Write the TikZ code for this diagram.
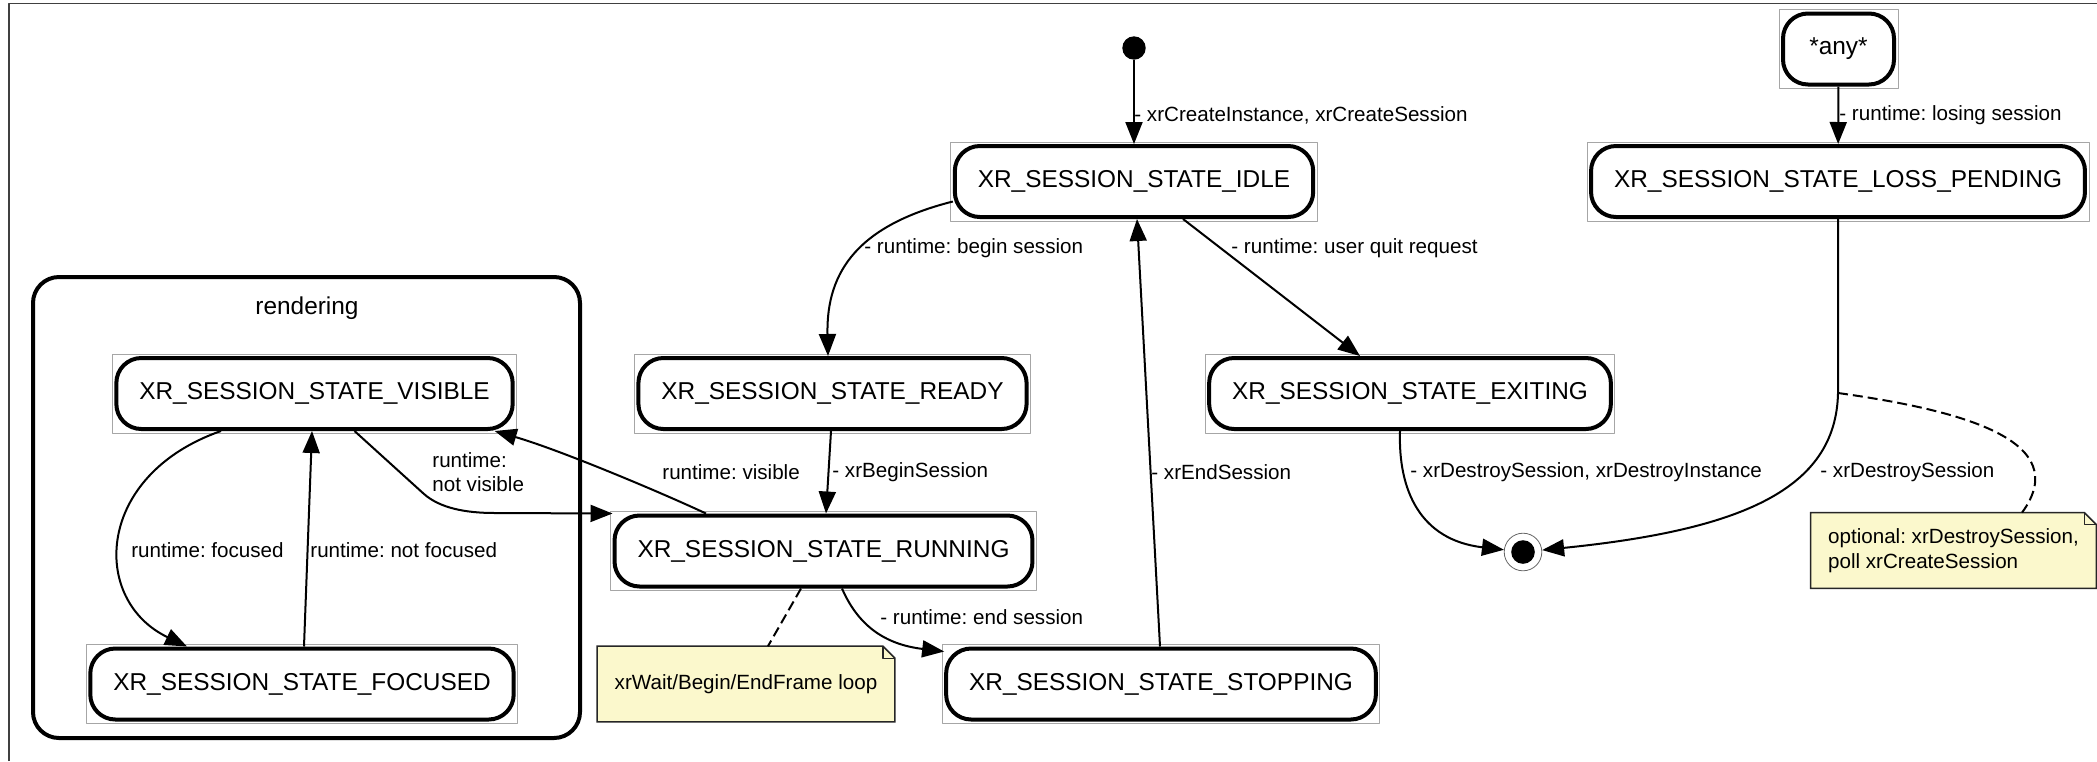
\documentclass[tikz,border=0pt]{standalone}
\usepackage{fontspec}
\setmainfont{Liberation Sans}
\usetikzlibrary{arrows.meta,backgrounds}
\frenchspacing

\definecolor{notebg}{RGB}{251,248,204}

\tikzset{
  state/.style={draw,line width=2pt,rounded corners=12.5pt,minimum height=35.5pt,
    inner xsep=11.5pt,font=\fontsize{12.2}{14}\selectfont},
  trans/.style={line width=1pt,-{Triangle[length=11pt,width=8.5pt]}},
  lbl/.style={anchor=west,inner sep=0.5pt,align=left,font=\fontsize{10.3}{12.2}\selectfont},
  notebox/.style={minimum height=37.5pt,inner xsep=8pt,align=left,
    font=\fontsize{10.3}{12.5}\selectfont},
  noteline/.style={draw=black!85,line width=0.8pt,fill=notebg},
  anchorline/.style={line width=1pt,dash pattern=on 5pt off 2.5pt},
}

\begin{document}
\begin{tikzpicture}[x=0.5pt,y=-0.5pt,line join=round]
  \useasboundingbox (0,0) rectangle (2097,761);
  \draw[black!75,line width=0.9pt] (9,761) -- (9,3.5) -- (2097,3.5);

  \node[draw,line width=2pt,rounded corners=13pt,minimum width=273.5pt,minimum height=230.5pt] (rendering) at (306.5,507.5) {};
  \node[font=\fontsize{12.2}{14}\selectfont] (renderingtitle) at (307,308) {rendering};

  \node[state] (visible) at (314.5,393.5) {XR\_SESSION\_STATE\_VISIBLE};
  \node[state] (focused) at (302,684) {XR\_SESSION\_STATE\_FOCUSED};
  \node[state] (idle) at (1134,181.5) {XR\_SESSION\_STATE\_IDLE};
  \node[state] (ready) at (832.5,393.5) {XR\_SESSION\_STATE\_READY};
  \node[state] (running) at (823.5,551) {XR\_SESSION\_STATE\_RUNNING};
  \node[state] (stopping) at (1161,684) {XR\_SESSION\_STATE\_STOPPING};
  \node[state] (exiting) at (1410,393.5) {XR\_SESSION\_STATE\_EXITING};
  \node[state] (losspending) at (1838,181.5) {XR\_SESSION\_STATE\_LOSS\_PENDING};
  \node[state,minimum width=55.5pt] (any) at (1838.5,49) {*any*};
  \foreach \s in {visible,focused,idle,ready,running,stopping,exiting,losspending,any}
    \draw[gray!70,line width=0.4pt] ([shift={(-1pt,1pt)}]\s.north west) rectangle ([shift={(1pt,-1pt)}]\s.south east);

  \node[circle,fill,minimum size=11.7pt,inner sep=0pt] (start) at (1134,48) {};
  \node[circle,draw=black!60,line width=0.4pt,minimum size=18.8pt,inner sep=0pt] (final) at (1523,552) {};
  \node[circle,fill,minimum size=11.8pt,inner sep=0pt] (finaldot) at (final) {};

  \node[notebox,minimum width=148.5pt] (loopnote) at (746,684) {xrWait/Begin/EndFrame loop};
  \node[notebox,minimum width=142.5pt] (optnote) at (1953.5,550.5) {optional: xrDestroySession,\\poll xrCreateSession};
  \begin{scope}[on background layer]
    \foreach \n in {loopnote,optnote}
      \draw[noteline] (\n.north west) -- ([xshift=-6pt]\n.north east) -- ([yshift=-6pt]\n.north east)
        -- (\n.south east) -- (\n.south west) -- cycle;
  \end{scope}
  \foreach \n in {loopnote,optnote}
    \draw[black!85,line width=0.6pt] ([xshift=-6pt]\n.north east) |- ([yshift=-6pt]\n.north east);

  \draw[trans] (start) -- (idle);
  \node[lbl] (lblcreate) at (1133,115) {- xrCreateInstance, xrCreateSession};
  \draw[trans] (any) -- (losspending);
  \node[lbl] (lbllosing) at (1838,115) {- runtime: losing session};

  \draw[trans] ([yshift=-10pt]idle.west) .. controls (860,225) and (826,270) .. ([xshift=-2.25pt]ready.north);
  \node[lbl] (lblbegin) at (863,248) {- runtime: begin session};
  \draw[trans] ([xshift=-0.75pt]ready.south) -- ([xshift=1.25pt]running.north);
  \node[lbl] (lblbeginsession) at (831,472) {- xrBeginSession};

  \draw[trans] ([xshift=-58.75pt]running.north) .. controls (660,492) and (560,450) .. ([xshift=-10pt]visible.south east);
  \node[lbl] (lblvisible) at (661,472) {runtime: visible};
  \draw[trans] ([xshift=20pt]visible.south) -- (424,494) .. controls (440,508) and (465,513) .. (495,513) -- (running.north west);
  \node[lbl] (lblnotvisible) at (431,472) {runtime:\\not visible};

  \draw[trans] ([xshift=-46.75pt]visible.south) .. controls (95,475) and (90,600) .. ([xshift=-57.5pt]focused.north);
  \node[lbl,anchor=center] (lblfocused) at (207.5,550) {runtime: focused};
  \draw[trans] ([xshift=1pt]focused.north) -- ([xshift=-1.25pt]visible.south);
  \node[lbl] (lblnotfocused) at (309,550) {runtime: not focused};

  \draw[trans] ([xshift=24.5pt]idle.south) -- ([xshift=-25pt]exiting.north);
  \node[lbl] (lblquit) at (1230,248) {- runtime: user quit request};
  \draw[trans] ([xshift=-0.5pt]stopping.north) -- ([xshift=1.5pt]idle.south);
  \node[lbl] (lblendsession) at (1150,472) {- xrEndSession};
  \draw[trans] ([xshift=9.25pt]running.south) .. controls (860,630) and (890,645) .. ([yshift=-2.5pt]stopping.north west);
  \node[lbl] (lblend) at (879,617) {- runtime: end session};
  \draw[anchorline] ([xshift=-11.25pt]running.south) -- ([xshift=11pt]loopnote.north);

  \draw[trans] ([xshift=-5pt]exiting.south) .. controls (1398,490) and (1420,540) .. (final);
  \node[lbl] (lbldestroyall) at (1409,472) {- xrDestroySession, xrDestroyInstance};
  \coordinate (lossfork) at (1838,393);
  \draw[trans] (losspending) -- (lossfork) .. controls (1836,490) and (1740,530) .. (final);
  \node[lbl] (lbldestroy) at (1819,472) {- xrDestroySession};
  \draw[anchorline] (lossfork) .. controls (1960,410) and (2075,440) .. ([xshift=34.25pt]optnote.north);
\end{tikzpicture}
\end{document}
